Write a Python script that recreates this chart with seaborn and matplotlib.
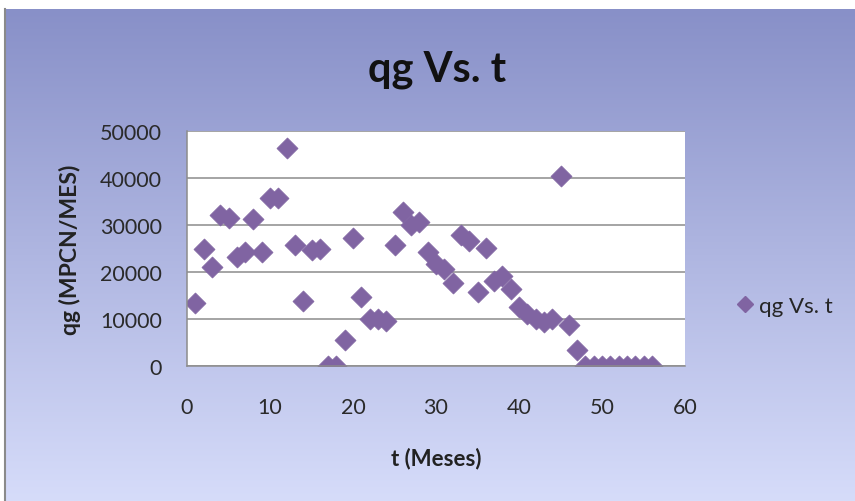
import numpy as np
import pandas as pd
import matplotlib
matplotlib.use("Agg")
import matplotlib.pyplot as plt
import seaborn as sns
from matplotlib.lines import Line2D

# Monthly gas rate qg (MPCN/MES) versus time t (months)
meses = list(range(1, 57))
qg = [13500, 24900, 21000, 32200, 31500, 23100, 24300, 31300, 24300, 35700,
      35700, 46400, 25800, 13800, 24700, 24900, 0, 0, 5500, 27200,
      14600, 9900, 9900, 9500, 25800, 32700, 29900, 30600, 24200, 21700,
      20600, 17600, 27900, 26700, 15700, 25100, 18100, 19200, 16400, 12500,
      11100, 10000, 9300, 10100, 40400, 8800, 3300, 0, 0, 0,
      0, 0, 0, 0, 0, 0]
x_ticks = [0, 10, 20, 30, 40, 50, 60]
y_ticks = [0, 10000, 20000, 30000, 40000, 50000]
serie = "qg Vs. t"

df = pd.DataFrame({"t": meses, "qg": qg})

sns.set_theme(style="white")
plt.rcParams["font.family"] = ["Lato", "DejaVu Sans"]

W, H = 855, 502
fig = plt.figure(figsize=(W / 100, H / 100), dpi=100)
fig.patch.set_facecolor("white")

# Gradient frame behind the chart
bg = fig.add_axes([5 / W, 0, 1 - 5 / W, (H - 10) / H], zorder=0)
top = np.array([136, 144, 200]) / 255
bot = np.array([214, 220, 250]) / 255
tgrid = np.linspace(0, 1, 256)[:, None]
grad = top[None, :] * (1 - tgrid) + bot[None, :] * tgrid
bg.imshow(grad[:, None, :], aspect="auto", extent=[0, 1, 0, 1])
bg.set_xlim(0, 1)
bg.set_ylim(0, 1)
for side in ["top", "right", "bottom"]:
    bg.spines[side].set_visible(False)
bg.spines["left"].set_color("#8a8a8a")
bg.spines["left"].set_linewidth(1.5)
bg.set_xticks([])
bg.set_yticks([])

# Plot area
ax = fig.add_axes([187 / W, 1 - 367 / H, 498 / W, 235 / H], zorder=1)
ax.set_facecolor("white")
color = "#8064A2"
sns.scatterplot(data=df, x="t", y="qg", ax=ax, marker="D", s=115,
                color=color, edgecolor=color, linewidth=0.5, legend=False)

ax.set_xlim(0, 60)
ax.set_ylim(0, 50000)
ax.set_xticks(x_ticks)
ax.set_yticks(y_ticks)
ax.set_xticklabels([str(v) for v in x_ticks])
ax.set_yticklabels([str(v) for v in y_ticks])
ax.yaxis.grid(True, color="#8c8c8c", linewidth=1.1)
ax.xaxis.grid(False)
ax.set_axisbelow(True)
for side in ["top", "right"]:
    ax.spines[side].set_visible(False)
for side in ["left", "bottom"]:
    ax.spines[side].set_color("#8c8c8c")
    ax.spines[side].set_linewidth(1.1)
ax.tick_params(axis="both", which="major", direction="out", length=5,
               width=1.1, color="#8c8c8c", labelsize=15.5,
               labelcolor="#2a2a2a")
ax.tick_params(axis="x", pad=17)
ax.tick_params(axis="y", pad=13)

ax.set_xlabel("t (Meses)", fontsize=16, fontweight="bold", color="#222222",
              labelpad=22)
ax.set_ylabel("qg (MPCN/MES)", fontsize=16.5, fontweight="bold",
              color="#222222", labelpad=14)

fig.text(437 / W, 1 - 70 / H, "qg Vs. t", ha="center", va="center",
         fontsize=30, fontweight="bold", color="#111111")

handle = Line2D([], [], marker="D", linestyle="none", color=color,
                markersize=8)
fig.legend([handle], [serie], loc="center left",
           bbox_to_anchor=(721 / W, 1 - 307 / H), frameon=False,
           fontsize=16, handletextpad=0.0, borderpad=0, handlelength=1.2)

fig.savefig("out.png", dpi=100)
